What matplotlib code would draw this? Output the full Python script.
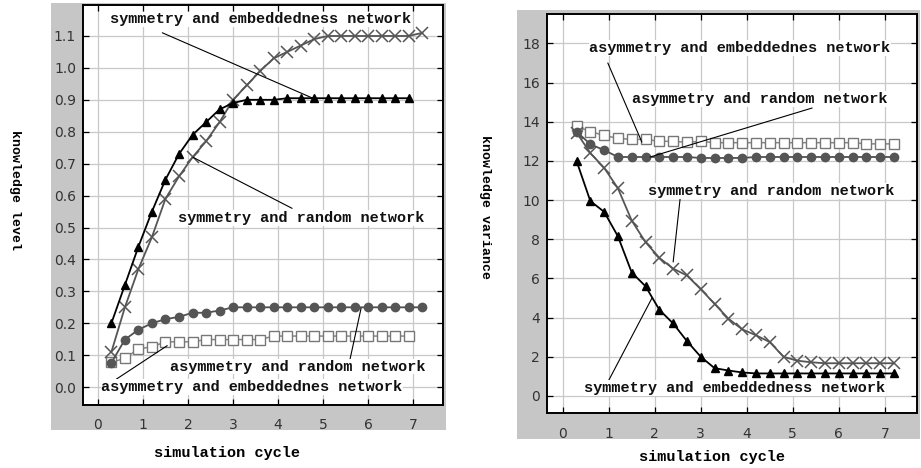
import matplotlib
matplotlib.use("Agg")
import matplotlib.pyplot as plt
from matplotlib.patches import Rectangle

# ---- data ----------------------------------------------------------------
cycle_23 = [0.3, 0.6, 0.9, 1.2, 1.5, 1.8, 2.1, 2.4, 2.7, 3.0, 3.3, 3.6,
            3.9, 4.2, 4.5, 4.8, 5.1, 5.4, 5.7, 6.0, 6.3, 6.6, 6.9]
cycle_24 = cycle_23 + [7.2]

# left panel: knowledge level
lvl_sym_embed = [0.20, 0.32, 0.44, 0.55, 0.65, 0.73, 0.79, 0.83, 0.87, 0.89,
                 0.90, 0.90, 0.90, 0.905, 0.905, 0.905, 0.905, 0.905, 0.905,
                 0.905, 0.905, 0.905, 0.905]
lvl_sym_rand = [0.11, 0.25, 0.37, 0.47, 0.59, 0.66, 0.72, 0.77, 0.83, 0.90,
                0.945, 0.99, 1.03, 1.05, 1.07, 1.09, 1.10, 1.10, 1.10, 1.10,
                1.10, 1.10, 1.10, 1.11]
lvl_asym_rand = [0.076, 0.149, 0.18, 0.20, 0.213, 0.22, 0.233, 0.233, 0.24,
                 0.25, 0.25, 0.25, 0.25, 0.25, 0.25, 0.25, 0.25, 0.25, 0.25,
                 0.25, 0.25, 0.25, 0.25, 0.25]
lvl_asym_embed = [0.078, 0.09, 0.12, 0.126, 0.142, 0.142, 0.142, 0.149,
                  0.149, 0.149, 0.149, 0.149, 0.16, 0.16, 0.16, 0.16, 0.16,
                  0.16, 0.16, 0.16, 0.16, 0.16, 0.16]

# right panel: knowledge variance
var_sym_embed = [12.0, 9.95, 9.4, 8.15, 6.3, 5.6, 4.4, 3.7, 2.8, 2.0, 1.42,
                 1.3, 1.2, 1.15, 1.15, 1.15, 1.15, 1.15, 1.15, 1.15, 1.15,
                 1.15, 1.15, 1.15]
var_sym_rand = [13.45, 12.4, 11.65, 10.6, 8.95, 7.85, 7.05, 6.5, 6.15, 5.45,
                4.7, 3.95, 3.4, 3.1, 2.75, 2.0, 1.8, 1.72, 1.67, 1.67, 1.67,
                1.67, 1.67, 1.67]
var_asym_rand = [13.5, 12.85, 12.55, 12.2, 12.2, 12.2, 12.2, 12.2, 12.2,
                 12.15, 12.15, 12.15, 12.15, 12.2, 12.2, 12.2, 12.2, 12.2,
                 12.2, 12.2, 12.2, 12.2, 12.2, 12.2]
var_asym_embed = [13.77, 13.5, 13.3, 13.15, 13.1, 13.1, 13.0, 13.0, 12.95,
                  13.0, 12.93, 12.93, 12.93, 12.93, 12.93, 12.93, 12.93,
                  12.93, 12.93, 12.93, 12.93, 12.87, 12.87, 12.87]

left_ticks = [0.0, 0.1, 0.2, 0.3, 0.4, 0.5, 0.6, 0.7, 0.8, 0.9, 1.0, 1.1]
right_ticks = [0, 2, 4, 6, 8, 10, 12, 14, 16, 18]
x_ticks = [0, 1, 2, 3, 4, 5, 6, 7]

# annotation: (label, text x, text y, line start, line end)
left_notes = [
    ("symmetry and embeddedness network", 3.6, 1.152, (1.43, 1.11), (4.77, 0.905)),
    ("symmetry and random network", 4.51, 0.53, (2.11, 0.72), (4.31, 0.56)),
    ("asymmetry and random network", 4.44, 0.064, (5.84, 0.247), (5.59, 0.084)),
    ("asymmetry and embeddednes network", 3.42, 0.0, (1.54, 0.13), (0.27, 0.012)),
]
right_notes = [
    ("asymmetry and embeddednes network", 3.85, 17.76, (0.98, 17.0), (1.72, 12.96)),
    ("asymmetry and random network", 4.28, 15.15, (5.42, 14.7), (1.90, 12.2)),
    ("symmetry and random network", 4.52, 10.46, (2.55, 10.05), (2.40, 6.84)),
    ("symmetry and embeddedness network", 3.74, 0.41, (1.94, 5.0), (0.98, 0.71)),
]

MONO = "Liberation Mono"
GRAY_BG = "#c6c6c6"

fig = plt.figure(figsize=(9.21, 4.68), dpi=100)
fig.patch.set_facecolor("white")

# gray frames behind each panel
for rect in [(0.0554, 0.0812, 0.4289, 0.912), (0.5613, 0.062, 0.4376, 0.9167)]:
    fig.add_artist(Rectangle(rect[:2], rect[2], rect[3], transform=fig.transFigure,
                             facecolor=GRAY_BG, edgecolor="none", zorder=-5))

ax1 = fig.add_axes([0.0901, 0.1346, 0.391, 0.8547])
ax2 = fig.add_axes([0.594, 0.1175, 0.4017, 0.8526])


def style(ax, yticks, xpad):
    ax.set_facecolor("white")
    ax.grid(True, color="#c8c8c8", lw=0.9)
    ax.set_axisbelow(True)
    ax.set_xticks(x_ticks)
    ax.set_yticks(yticks)
    ax.tick_params(direction="in", top=True, right=True, length=4, width=0.9,
                   labelsize=10, labelcolor="#333333")
    ax.tick_params(axis="x", pad=xpad)
    ax.tick_params(axis="y", pad=5)
    for s in ax.spines.values():
        s.set_linewidth(1.4)
        s.set_color("black")


def draw_series(ax, sym_embed, sym_rand, asym_rand, asym_embed, n_tri):
    ax.plot(cycle_24[:n_tri], sym_embed, color="black", lw=1.3, marker="^",
            ms=6, zorder=4)
    ax.plot(cycle_24, sym_rand, color="#555555", lw=1.3, marker="x", ms=8,
            mew=1.1, zorder=3)
    ax.plot(cycle_24, asym_rand, color="#505050", lw=1.3, marker="o", ms=6,
            mfc="#555555", mec="#555555", zorder=3)
    ax.plot(cycle_24[:len(asym_embed)], asym_embed, color="#888888", lw=1.1,
            marker="s", ms=7, mfc="white", mec="#777777", mew=1.0, zorder=2)


def notes(ax, items):
    for label, tx, ty, p0, p1 in items:
        ax.annotate("", xy=p1, xytext=p0,
                    arrowprops=dict(arrowstyle="-", color="black", lw=0.8,
                                    shrinkA=0, shrinkB=0), zorder=5)
        ax.text(tx, ty, label, family=MONO, fontsize=11, fontweight="bold",
                ha="center", va="center", color="#111111", zorder=6,
                bbox=dict(facecolor="white", edgecolor="none", pad=0.5))


# left panel: knowledge level
draw_series(ax1, lvl_sym_embed, lvl_sym_rand, lvl_asym_rand, lvl_asym_embed, 23)
style(ax1, left_ticks, 9)
ax1.set_yticklabels([f"{v:.1f}" for v in left_ticks])
ax1.set_xlim(-0.33, 7.66)
ax1.set_ylim(-0.056, 1.197)
notes(ax1, left_notes)

# right panel: knowledge variance
draw_series(ax2, var_sym_embed, var_sym_rand, var_asym_rand, var_asym_embed, 24)
style(ax2, right_ticks, 10)
ax2.set_xlim(-0.34, 7.7)
ax2.set_ylim(-0.87, 19.5)
notes(ax2, right_notes)

# axis titles sit outside the gray frames
fig.text(15 / 921, 1 - 190 / 468, "knowledge level", family=MONO, fontsize=9.5,
         fontweight="bold", rotation=270, ha="center", va="center")
fig.text(227 / 921, 1 - 453 / 468, "simulation cycle", family=MONO, fontsize=11,
         fontweight="bold", ha="center", va="center")
fig.text(485 / 921, 1 - 207 / 468, "knowledge variance", family=MONO, fontsize=9.5,
         fontweight="bold", rotation=270, ha="center", va="center")
fig.text(712 / 921, 1 - 457 / 468, "simulation cycle", family=MONO, fontsize=11,
         fontweight="bold", ha="center", va="center")

fig.savefig("out.png", dpi=100)
